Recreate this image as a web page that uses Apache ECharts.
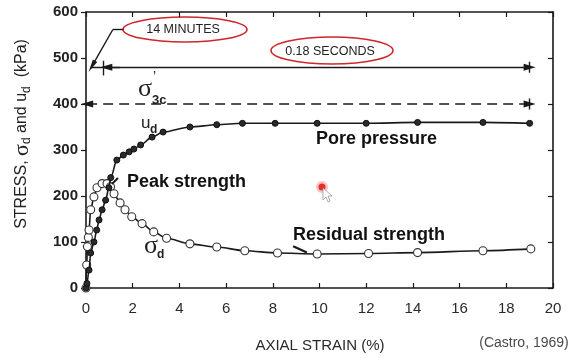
<!DOCTYPE html>
<html>
<head>
<meta charset="utf-8">
<script src="https://cdn.jsdelivr.net/npm/echarts@6/dist/echarts.min.js"></script>
<style>
html, body { margin: 0; padding: 0; background: #fff; }
#chart { width: 573px; height: 358px; }
</style>
</head>
<body>
<div id="chart"></div>
<script>
// Deviator stress σd (kPa) against axial strain (%)
const sigmaStrain = [0, 0.03, 0.06, 0.1, 0.13, 0.2, 0.34, 0.47, 0.69, 0.9, 1.05, 1.2, 1.46, 1.67, 1.96, 2.4, 2.9, 3.45, 4.45, 5.6, 6.8, 8.2, 9.9, 12.1, 14.2, 17.0, 19.05];
const sigmaStress = [0, 50, 90, 110, 126, 170, 198, 218, 227, 227, 220, 205, 185, 170, 155, 140, 122, 108, 96, 89, 81, 76, 74, 75, 77, 81, 85];

// Excess pore pressure ud (kPa) against axial strain (%)
const poreStrain = [0, 0.04, 0.13, 0.2, 0.34, 0.46, 0.56, 0.69, 0.84, 0.98, 1.06, 1.32, 1.6, 1.85, 2.05, 2.34, 2.83, 3.3, 4.45, 5.6, 6.7, 8.1, 9.9, 12.0, 14.2, 17.0, 19.0];
const porePressure = [0, 10, 39, 76, 100, 126, 148, 170, 191, 218, 240, 278, 289, 296, 302, 311, 328, 339, 350, 355, 358, 358, 358, 358, 360, 360, 358];

// Axis ticks
const strainTicks = [0, 2, 4, 6, 8, 10, 12, 14, 16, 18, 20];
const stressTicks = [0, 100, 200, 300, 400, 500, 600];

// Reference levels: loading time bar and effective confining stress σ'3c
const timeBarLevel = 480;
const confiningStress = 400;
const failureStrain = 19;
const loadStartStrain = 0.75;

const pairs = (xs, ys) => xs.map((x, i) => [x, ys[i]]);

const ink = '#1a1a1a';
const seg = (a, b, extra) => [Object.assign({ coord: a, symbol: 'none' }, extra && extra[0]), Object.assign({ coord: b, symbol: 'none' }, extra && extra[1])];
const tri = { symbol: 'triangle', symbolSize: [7, 12] };

const chart = echarts.init(document.getElementById('chart'), null, { renderer: 'canvas' });

const option = {
  animation: false,
  backgroundColor: '#fff',
  grid: { left: 86, right: 20, top: 12, bottom: 70, containLabel: false, show: false },
  xAxis: [{
    type: 'value', min: strainTicks[0], max: strainTicks[strainTicks.length - 1], interval: 2,
    axisLine: { show: true, onZero: false, lineStyle: { color: ink, width: 1.6 } },
    axisTick: { show: true, inside: true, length: 5, lineStyle: { color: ink, width: 1.2 } },
    axisLabel: { show: true, margin: 13, color: '#2a2a2a', fontSize: 15, fontFamily: 'Liberation Sans, Arial, sans-serif' },
    splitLine: { show: false }
  }, {
    type: 'value', position: 'top', min: strainTicks[0], max: strainTicks[strainTicks.length - 1], interval: 2,
    axisLine: { show: true, onZero: false, lineStyle: { color: ink, width: 1.6 } },
    axisTick: { show: true, inside: true, length: 5, lineStyle: { color: ink, width: 1.2 } },
    axisLabel: { show: false }, splitLine: { show: false }
  }],
  yAxis: [{
    type: 'value', min: stressTicks[0], max: stressTicks[stressTicks.length - 1], interval: 100,
    axisLine: { show: true, onZero: false, lineStyle: { color: ink, width: 1.6 } },
    axisTick: { show: true, inside: false, length: 5, lineStyle: { color: ink, width: 1.2 } },
    axisLabel: { show: true, margin: 8, color: '#222', fontSize: 15, fontWeight: 'bold', fontFamily: 'Liberation Sans, Arial, sans-serif' },
    splitLine: { show: false }
  }, {
    type: 'value', position: 'right', min: stressTicks[0], max: stressTicks[stressTicks.length - 1], interval: 100,
    axisLine: { show: true, onZero: false, lineStyle: { color: ink, width: 1.6 } },
    axisTick: { show: true, inside: true, length: 5, lineStyle: { color: ink, width: 1.2 } },
    axisLabel: { show: false }, splitLine: { show: false }
  }],
  series: [{
    name: 'ud',
    type: 'line',
    data: pairs(poreStrain, porePressure),
    smooth: 0.3, smoothMonotone: 'x',
    symbol: 'circle', symbolSize: 6,
    itemStyle: { color: '#2a2a2a', borderColor: '#111', borderWidth: 1 },
    lineStyle: { color: ink, width: 1.6 },
    z: 3,
    markLine: {
      silent: true, animation: false,
      label: { show: false },
      lineStyle: { color: ink, width: 1.4, type: 'solid' },
      data: [
        // loading time bar (0.18 s)
        seg([0.2, timeBarLevel], [failureStrain, timeBarLevel], [{}, tri]),
        seg([1.45, timeBarLevel], [loadStartStrain + 0.12, timeBarLevel], [{}, tri]),
        seg([loadStartStrain, timeBarLevel - 18], [loadStartStrain, timeBarLevel + 14]),
        seg([failureStrain, timeBarLevel - 12], [failureStrain, timeBarLevel + 12]),
        // consolidation leader (14 minutes)
        seg([1.6, 562], [1.15, 562]),
        seg([1.15, 562], [0.25, timeBarLevel + 2], [{}, { symbol: 'triangle', symbolSize: [5, 13] }]),
        // effective confining stress
        seg([0.05, confiningStress], [failureStrain, confiningStress], [tri, tri]).map((p, i) => i === 0 ? Object.assign(p, { lineStyle: { type: [10, 6], width: 1.6, color: ink } }) : p),
        seg([failureStrain, confiningStress - 12], [failureStrain, confiningStress + 12]),
        // label leaders
        seg([1.11, 226], [1.37, 239], [{ lineStyle: { width: 2, color: ink } }, {}]),
        seg([8.87, 91], [9.46, 77], [{ lineStyle: { width: 2.2, color: ink } }, {}])
      ]
    }
  }, {
    name: 'σd',
    type: 'line',
    data: pairs(sigmaStrain, sigmaStress),
    smooth: 0.3, smoothMonotone: 'x',
    symbol: 'circle', symbolSize: 8,
    itemStyle: { color: '#fff', borderColor: '#333', borderWidth: 1.1 },
    lineStyle: { color: ink, width: 1.6 },
    z: 2
  }]
};

chart.setOption(option);

const serif = 'Liberation Serif, DejaVu Serif, serif';
const sans = 'Liberation Sans, Arial, sans-serif';

chart.setOption({
  graphic: [
    // vertical axis title
    {
      type: 'text', x: 22, y: 134, rotation: Math.PI / 2,
      style: {
        text: '{a|STRESS, }{s|σ}{b|d}{a| and u}{b|d}{a|  (kPa)}',
        align: 'center', verticalAlign: 'middle',
        rich: {
          a: { fontSize: 16, fontFamily: sans, fill: '#222', lineHeight: 22 },
          s: { fontSize: 22, fontFamily: serif, fill: '#222', lineHeight: 22 },
          b: { fontSize: 12, fontFamily: sans, fill: '#222', lineHeight: 22, padding: [9, 0, 0, 0] }
        }
      }
    },
    // horizontal axis title and source
    { type: 'text', x: 320, y: 346, style: { text: 'AXIAL STRAIN (%)', fontSize: 15, fontFamily: sans, fill: '#2a2a2a', align: 'center', verticalAlign: 'middle' } },
    { type: 'text', x: 524, y: 343, style: { text: '(Castro, 1969)', fontSize: 14, fontFamily: sans, fill: '#4a4a4a', align: 'center', verticalAlign: 'middle' } },
    // time annotations with red ellipses
    { type: 'text', x: 183, y: 30, style: { text: '14 MINUTES', fontSize: 12.5, fontFamily: sans, fill: '#222', align: 'center', verticalAlign: 'middle' } },
    { type: 'ellipse', shape: { cx: 185, cy: 29.5, rx: 62, ry: 12.5 }, style: { fill: 'none', stroke: '#d0262b', lineWidth: 1.6 } },
    { type: 'text', x: 330, y: 52, style: { text: '0.18 SECONDS', fontSize: 12.5, fontFamily: sans, fill: '#222', align: 'center', verticalAlign: 'middle' } },
    { type: 'ellipse', shape: { cx: 332, cy: 50.5, rx: 61, ry: 13.5 }, style: { fill: 'none', stroke: '#d0262b', lineWidth: 1.6 } },
    // σ'3c
    { type: 'text', x: 138, y: 89, style: { text: 'σ', fontSize: 26, fontFamily: serif, fill: '#222', align: 'left', verticalAlign: 'middle' } },
    { type: 'text', x: 153, y: 77, style: { text: '\u2019', fontSize: 14, fontFamily: sans, fill: '#222', align: 'left', verticalAlign: 'middle' } },
    { type: 'text', x: 152, y: 100, style: { text: '3c', fontSize: 13, fontWeight: 'bold', fontFamily: sans, fill: '#222', align: 'left', verticalAlign: 'middle' } },
    // ud
    { type: 'text', x: 141, y: 123, style: { text: 'u', fontSize: 17, fontFamily: sans, fill: '#222', align: 'left', verticalAlign: 'middle' } },
    { type: 'text', x: 150, y: 130, style: { text: 'd', fontSize: 12, fontWeight: 'bold', fontFamily: sans, fill: '#222', align: 'left', verticalAlign: 'middle' } },
    // σd
    { type: 'text', x: 144, y: 246, style: { text: 'σ', fontSize: 26, fontFamily: serif, fill: '#222', align: 'left', verticalAlign: 'middle' } },
    { type: 'text', x: 157, y: 255, style: { text: 'd', fontSize: 12, fontWeight: 'bold', fontFamily: sans, fill: '#222', align: 'left', verticalAlign: 'middle' } },
    // curve labels
    { type: 'text', x: 316, y: 139, style: { text: 'Pore pressure', fontSize: 18, fontWeight: 'bold', fontFamily: sans, fill: '#111', align: 'left', verticalAlign: 'middle' } },
    { type: 'text', x: 127, y: 182, style: { text: 'Peak strength', fontSize: 18, fontWeight: 'bold', fontFamily: sans, fill: '#111', align: 'left', verticalAlign: 'middle' } },
    { type: 'text', x: 293, y: 235, style: { text: 'Residual strength', fontSize: 18, fontWeight: 'bold', fontFamily: sans, fill: '#111', align: 'left', verticalAlign: 'middle' } },
    // pointer
    { type: 'circle', shape: { cx: 322, cy: 187, r: 6 }, style: { fill: 'rgba(255,80,80,0.35)' } },
    { type: 'circle', shape: { cx: 322, cy: 187, r: 3.5 }, style: { fill: '#e0302a' } },
    { type: 'polygon', shape: { points: [[323, 188], [323, 200], [326, 197], [328, 202], [330, 201], [328, 196], [332, 196]] }, style: { fill: '#fff', stroke: '#999', lineWidth: 0.8 } }
  ]
});
</script>
</body>
</html>
